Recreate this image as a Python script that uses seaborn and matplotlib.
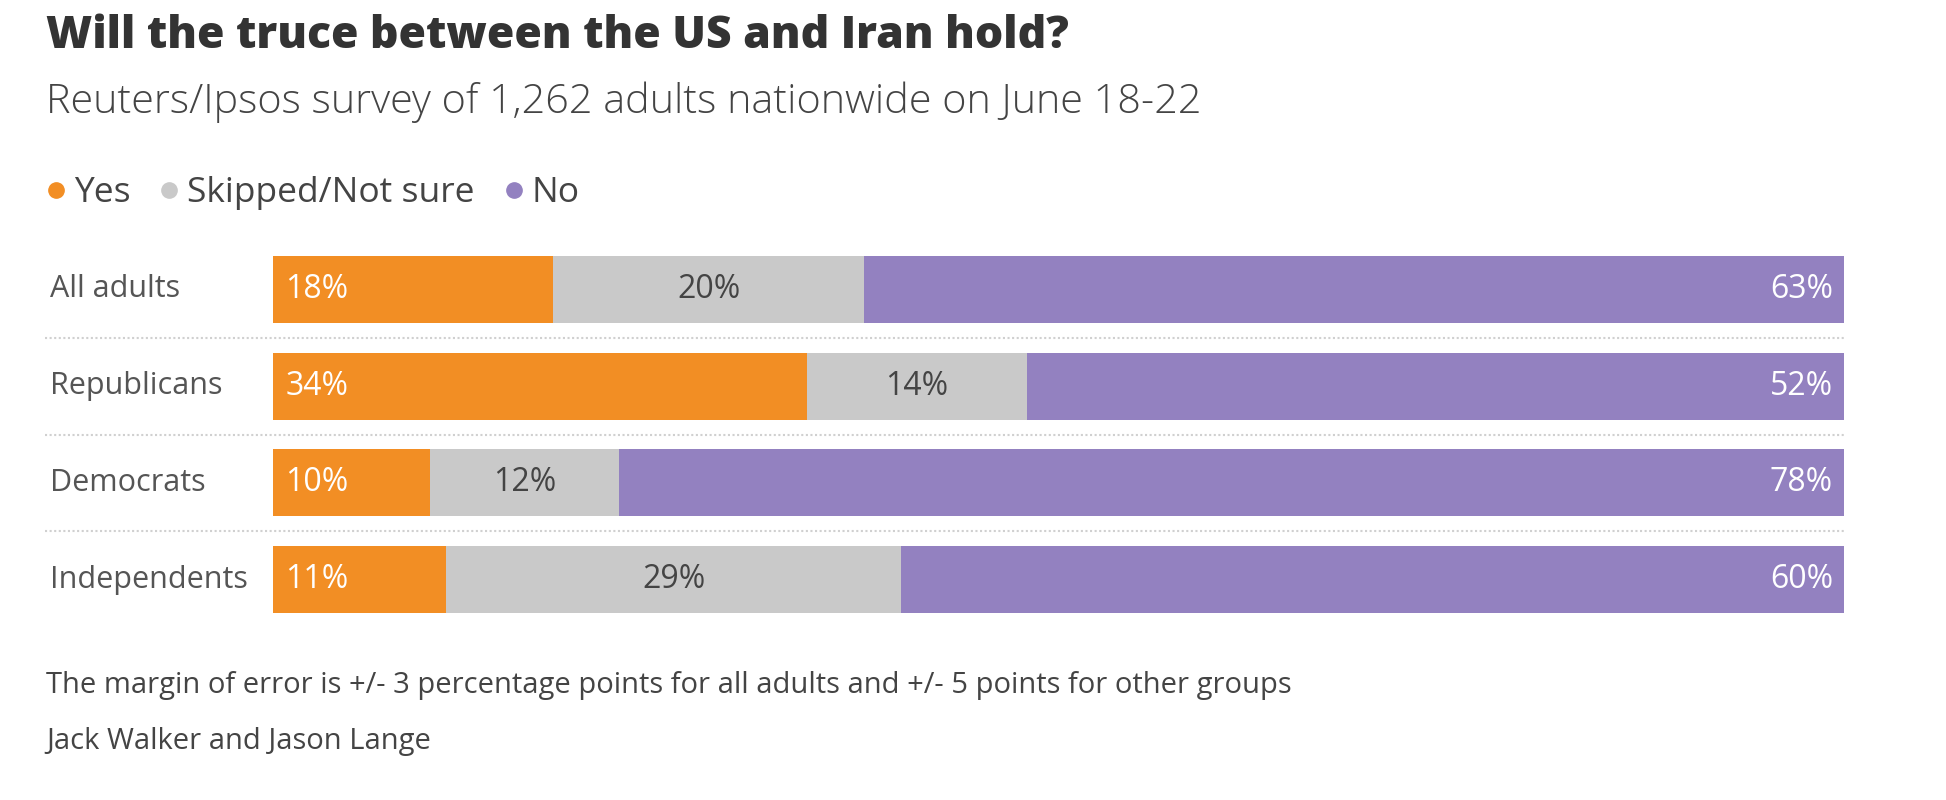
import numpy as np
import pandas as pd
import seaborn as sns
import matplotlib.pyplot as plt
from matplotlib.lines import Line2D
import matplotlib.transforms as mtransforms

# data
groups = ["All adults", "Republicans", "Democrats", "Independents"]
yes = [18, 34, 10, 11]
skipped = [20, 14, 12, 29]
no = [63, 52, 78, 60]
answers = ["Yes", "Skipped/Not sure", "No"]
colors = ["#F28E24", "#C9C9C9", "#9381C0"]

title = "Will the truce between the US and Iran hold?"
subtitle = "Reuters/Ipsos survey of 1,262 adults nationwide on June 18-22"
footnote = "The margin of error is +/- 3 percentage points for all adults and +/- 5 points for other groups"
credit = "Jack Walker and Jason Lange"

sns.set_theme(style="white")
plt.rcParams["font.family"] = ["Open Sans", "DejaVu Sans"]

df = pd.DataFrame({"group": groups, "yes": yes, "skipped": skipped, "no": no})
total = df[["yes", "skipped", "no"]].sum(axis=1)
# cumulative shares, normalised so every bar spans the full width
df["c_yes"] = df["yes"] / total * 100
df["c_skip"] = (df["yes"] + df["skipped"]) / total * 100
df["c_no"] = (df["yes"] + df["skipped"] + df["no"]) / total * 100

W, H = 1946, 800
fig = plt.figure(figsize=(W / 100, H / 100), dpi=100)
ax = fig.add_axes([273 / W, 1 - 628 / H, 1571 / W, 387 / H])

# stacked bars: draw the longest first, shorter on top
for col, c in zip(["c_no", "c_skip", "c_yes"], colors[::-1]):
    sns.barplot(data=df, x=col, y="group", color=c, width=0.69,
                orient="h", ax=ax, saturation=1, linewidth=0)

ax.set_xlim(0, 100)
ax.set_ylim(3.5, -0.5)
ax.set_xlabel("")
ax.set_ylabel("")
ax.set_xticks([])
ax.set_yticks([])
sns.despine(ax=ax, left=True, bottom=True)

trans = mtransforms.blended_transform_factory(ax.transAxes, ax.transData)
lab_x = (50 - 273) / 1571
for i, row in df.iterrows():
    ax.text(lab_x, i, row["group"], transform=trans, ha="left", va="center",
            fontsize=22, color="#555555")
    # value labels
    ax.text(0.8, i, f"{row['yes']}%", ha="left", va="center",
            fontsize=23, color="white")
    ax.text((row["c_yes"] + row["c_skip"]) / 2, i, f"{row['skipped']}%",
            ha="center", va="center", fontsize=23, color="#444444")
    ax.text(99.3, i, f"{row['no']}%", ha="right", va="center",
            fontsize=23, color="white")

# dotted separators between rows
for k in range(len(groups) - 1):
    ax.plot([lab_x - 0.003, 1.0], [k + 0.5, k + 0.5], transform=trans,
            color="#D0D0D0", linestyle=(0, (1, 1.2)), linewidth=1.5, clip_on=False)

fig.text(46 / W, 1 - 37 / H, title, fontsize=32, fontweight="heavy",
         color="#333333", va="center", ha="left")
fig.text(46 / W, 1 - 102 / H, subtitle, fontsize=29.8, fontweight="light",
         color="#444444", va="center", ha="left")

handles = [Line2D([0], [0], marker="o", linestyle="", markersize=11,
                  markerfacecolor=c, markeredgecolor=c) for c in colors]
fig.legend(handles, answers, loc="center left", bbox_to_anchor=(42 / W, 1 - 193 / H),
           ncol=3, frameon=False, fontsize=25.5, handletextpad=0.1,
           columnspacing=0.7, handlelength=0.8, labelcolor="#444444",
           borderaxespad=0, borderpad=0)

fig.text(46 / W, 1 - 685 / H, footnote, fontsize=21, color="#444444",
         va="center", ha="left")
fig.text(46 / W, 1 - 742 / H, credit, fontsize=21, color="#444444",
         va="center", ha="left")

fig.savefig("out.png", dpi=100, facecolor="white")
